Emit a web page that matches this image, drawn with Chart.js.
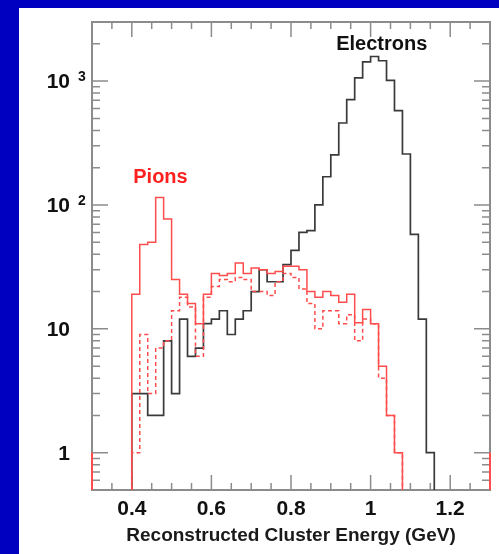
<!DOCTYPE html>
<html>
<head>
<meta charset="utf-8">
<script src="https://cdn.jsdelivr.net/npm/chart.js@4.4.0/dist/chart.umd.min.js"></script>
<style>
  html, body { margin: 0; padding: 0; }
  body { background: #0000c0; width: 499px; height: 554px; overflow: hidden; position: relative; }
  #panel { position: absolute; left: 19px; top: 8px; width: 480px; height: 546px; background: #fff; }
  canvas { display: block; }
</style>
</head>
<body>
<div id="panel"><canvas id="energyChart" width="480" height="546"></canvas></div>
<script>
// lower edge of each 0.02 GeV bin
const energyBins = [0.40, 0.42, 0.44, 0.46, 0.48, 0.50, 0.52, 0.54, 0.56, 0.58,
  0.60, 0.62, 0.64, 0.66, 0.68, 0.70, 0.72, 0.74, 0.76, 0.78,
  0.80, 0.82, 0.84, 0.86, 0.88, 0.90, 0.92, 0.94, 0.96, 0.98,
  1.00, 1.02, 1.04, 1.06, 1.08, 1.10, 1.12, 1.14];
const BIN_WIDTH = 0.02;

const electronCounts = [3, 3, 2, 2, 8, 3, 12, 6, 7, 11,
  12, 14, 9, 12, 14, 20, 30, 24, 24, 33,
  43, 60, 62, 100, 169, 254, 459, 708, 1060, 1430,
  1580, 1460, 1015, 577, 258, 58, 12, 1];

const pionCounts = [19, 48, 50, 115, 77, 25, 19, 16, 11, 19,
  28, 27, 28, 34, 28, 31, 30, 28, 29, 32,
  32, 30, 20, 18, 20, 18.6, 16.4, 19, 11.2, 14.3,
  11, 5, 2, 1];

// dashed pion histogram
const pionCutCounts = [1, 9, 3, 7, 8, 14, 18, 15, 6, 18,
  22, 25, 24, 26, 25, 20, 20, 18.6, 24, 28,
  26, 21, 16, 10, 14, 14, 11, 13, 8, 12,
  11, 4, 2, 1];

const xTickValues = [0.4, 0.6, 0.8, 1.0, 1.2];
const xTickLabels = ['0.4', '0.6', '0.8', '1', '1.2'];
const yLabelValues = [1, 10, 100, 1000];
const yLabelBase = ['1', '10', '10', '10'];
const yLabelExp = ['', '', '2', '3'];

const X_MIN = 0.3, X_MAX = 1.3;
const Y_MIN = 0.5, Y_MAX = 3000;
const FONT = "'Liberation Sans', Arial, sans-serif";
const RED = '#ff4d4d';

function histPoints(counts) {
  const pts = [{ x: energyBins[0], y: Y_MIN }];
  counts.forEach((c, i) => pts.push({ x: energyBins[i], y: c > 0 ? c : Y_MIN }));
  pts.push({ x: energyBins[counts.length - 1] + BIN_WIDTH, y: Y_MIN });
  return pts;
}

function isMajorX(v) {
  return xTickValues.some(t => Math.abs(t - v) < 1e-6);
}
function isDecade(v) {
  const l = Math.log10(v);
  return Math.abs(l - Math.round(l)) < 1e-6;
}

// frame + inward ticks under the histograms, labels on top
const framePlugin = {
  id: 'framePlugin',
  beforeDatasetsDraw(chart) {
    const { ctx, chartArea: a, scales: { x, y } } = chart;
    ctx.save();
    ctx.strokeStyle = '#8c8c8c';
    ctx.lineWidth = 2;
    ctx.strokeRect(a.left, a.top, a.right - a.left, a.bottom - a.top);

    ctx.lineWidth = 1.5;
    ctx.beginPath();
    x.ticks.forEach(t => {
      const px = x.getPixelForValue(t.value);
      const len = isMajorX(t.value) ? 15 : 7;
      ctx.moveTo(px, a.bottom); ctx.lineTo(px, a.bottom - len);
      ctx.moveTo(px, a.top); ctx.lineTo(px, a.top + len);
    });
    y.ticks.forEach(t => {
      const py = y.getPixelForValue(t.value);
      const len = isDecade(t.value) ? 16 : 8;
      ctx.moveTo(a.left, py); ctx.lineTo(a.left + len, py);
      ctx.moveTo(a.right, py); ctx.lineTo(a.right - len, py);
    });
    ctx.stroke();
    ctx.restore();
  },
  afterDatasetsDraw(chart) {
    const { ctx, chartArea: a, scales: { x, y } } = chart;
    ctx.save();
    ctx.fillStyle = '#111';
    yLabelValues.forEach((v, i) => {
      const py = y.getPixelForValue(v);
      ctx.font = 'bold 21px ' + FONT;
      ctx.textAlign = 'right';
      ctx.textBaseline = 'middle';
      ctx.fillText(yLabelBase[i], a.left - 22, py + 1.5);
      if (yLabelExp[i]) {
        ctx.font = 'bold 14px ' + FONT;
        ctx.textAlign = 'left';
        ctx.textBaseline = 'alphabetic';
        ctx.fillText(yLabelExp[i], a.left - 14, py);
      }
    });

    ctx.font = 'bold 20px ' + FONT;
    ctx.textAlign = 'center';
    ctx.textBaseline = 'middle';
    ctx.fillStyle = '#111';
    ctx.fillText('Electrons', x.getPixelForValue(1.028), y.getPixelForValue(1977));
    ctx.fillStyle = '#ff2020';
    ctx.fillText('Pions', x.getPixelForValue(0.472), y.getPixelForValue(168));
    ctx.restore();
  }
};

const ctx = document.getElementById('energyChart').getContext('2d');
new Chart(ctx, {
  type: 'scatter',
  data: {
    datasets: [
      {
        label: 'Pions',
        data: histPoints(pionCounts),
        showLine: true,
        stepped: 'before',
        borderColor: RED,
        borderWidth: 1.5,
        pointRadius: 0
      },
      {
        label: 'Pions (dashed)',
        data: histPoints(pionCutCounts),
        showLine: true,
        stepped: 'before',
        borderColor: RED,
        borderWidth: 1.5,
        borderDash: [4, 3],
        pointRadius: 0
      },
      {
        label: 'Electrons',
        data: histPoints(electronCounts),
        showLine: true,
        stepped: 'before',
        borderColor: '#3a3a3a',
        borderWidth: 1.7,
        pointRadius: 0
      },
      {
        label: 'edge left',
        data: [{ x: X_MIN, y: Y_MIN }, { x: X_MIN, y: 1 }],
        showLine: true,
        borderColor: RED,
        borderWidth: 2,
        pointRadius: 0,
        clip: false
      },
      {
        label: 'edge right',
        data: [{ x: X_MAX, y: Y_MIN }, { x: X_MAX, y: 1 }],
        showLine: true,
        borderColor: RED,
        borderWidth: 2,
        pointRadius: 0,
        clip: false
      }
    ]
  },
  options: {
    responsive: false,
    animation: false,
    layout: { padding: { top: 14, right: 9, left: 0, bottom: 0 } },
    plugins: {
      legend: { display: false },
      tooltip: { enabled: false }
    },
    scales: {
      x: {
        type: 'linear',
        min: X_MIN,
        max: X_MAX,
        grid: { display: false, drawTicks: false },
        border: { display: false },
        afterBuildTicks: scale => {
          const ticks = [];
          for (let i = 0; i <= 20; i++) ticks.push({ value: +(X_MIN + i * 0.05).toFixed(2) });
          scale.ticks = ticks;
        },
        afterFit: scale => { scale.height = 64; },
        ticks: {
          autoSkip: false,
          maxRotation: 0,
          padding: 7,
          color: '#111',
          font: { family: FONT, size: 21, weight: 'bold' },
          callback: value => {
            const i = xTickValues.findIndex(v => Math.abs(v - value) < 1e-6);
            return i >= 0 ? xTickLabels[i] : '';
          }
        },
        title: {
          display: true,
          text: 'Reconstructed Cluster Energy (GeV)',
          color: '#1a1a1a',
          font: { family: FONT, size: 19, weight: 'bold' },
          padding: { top: 0, bottom: 7 }
        }
      },
      y: {
        type: 'logarithmic',
        min: Y_MIN,
        max: Y_MAX,
        grid: { display: false, drawTicks: false },
        border: { display: false },
        ticks: { display: false },
        afterBuildTicks: scale => {
          const ticks = [];
          [0.1, 1, 10, 100, 1000].forEach(d => {
            for (let m = 1; m <= 9; m++) {
              const v = +(m * d).toPrecision(3);
              if (v >= Y_MIN && v <= Y_MAX) ticks.push({ value: v });
            }
          });
          scale.ticks = ticks;
        },
        afterFit: scale => { scale.width = 73; }
      }
    }
  },
  plugins: [framePlugin]
});
</script>
</body>
</html>
